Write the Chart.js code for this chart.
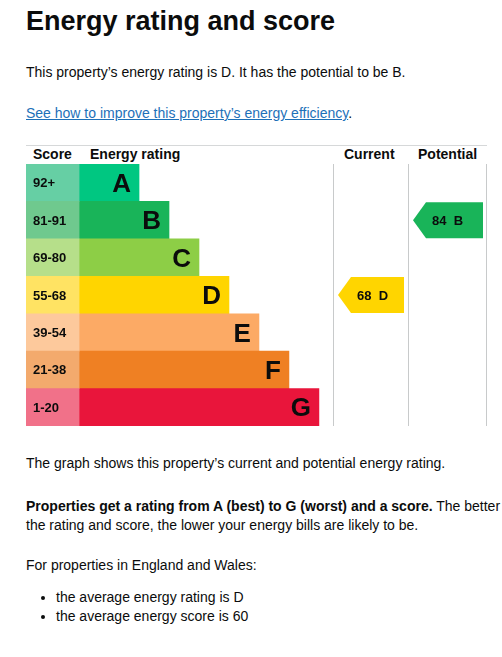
<!DOCTYPE html>
<html><head><meta charset="utf-8">
<script src="https://cdn.jsdelivr.net/npm/chart.js@4"></script>
<style>
body{margin:0;background:#fff;font-family:Arial,"Liberation Sans",sans-serif;color:#0b0c0c;}
.p{position:absolute;left:26px;font-size:14px;margin:0;white-space:nowrap}
h1{position:absolute;left:26px;top:6px;margin:0;font-size:27px;font-weight:bold}
a{color:#1d70b8}
.hd{position:absolute;top:145px;font-weight:bold;font-size:14px;line-height:19px}
#wrap{position:absolute;left:26px;top:164px;width:461px;height:262px}
#tbl{position:absolute;left:26px;top:145px;width:461px;height:281px;border-top:1px solid #d6d8d9;box-sizing:border-box}
ul{position:absolute;left:26px;top:588px;margin:0;padding-left:30px;font-size:14px;line-height:19px}
</style></head><body>
<h1>Energy rating and score</h1>
<p class="p" style="top:64px">This property’s energy rating is D. It has the potential to be B.</p>
<p class="p" style="top:105px"><a href="#">See how to improve this property’s energy efficiency</a>.</p>
<div id="tbl"></div>
<div class="hd" style="left:33px">Score</div>
<div class="hd" style="left:90px">Energy rating</div>
<div class="hd" style="left:344px">Current</div>
<div class="hd" style="left:418px">Potential</div>
<div id="wrap"><canvas id="c"></canvas></div>
<p class="p" style="top:455px">The graph shows this property’s current and potential energy rating.</p>
<p class="p" style="top:497px;line-height:19px"><b>Properties get a rating from A (best) to G (worst) and a score.</b> The better<br>the rating and score, the lower your energy bills are likely to be.</p>
<p class="p" style="top:557px">For properties in England and Wales:</p>
<ul><li>the average energy rating is D</li><li>the average energy score is 60</li></ul>
<script>
const bands=['A','B','C','D','E','F','G'];
const scoreRanges=['92+','81-91','69-80','55-68','39-54','21-38','1-20'];
const barLengths=[2,3,4,5,6,7,8];
const bandColors=['#00c781','#19b459','#8dce46','#ffd500','#fcaa65','#ef8023','#e9153b'];
const scoreColors=['#66cfa4','#6fc98e','#b6df8a','#ffe363','#fdc99c','#f3aa6d','#f17189'];
const currentScore=68, currentBand='D';
const potentialScore=84, potentialBand='B';
const scoreCol=1.77;

const labelsPlugin={id:'labels',afterDatasetsDraw(ch){
  const c=ch.ctx,xs=ch.scales.x,ys=ch.scales.y,W=ch.width,H=ch.height;
  c.save();
  bands.forEach((b,i)=>{
    const y=ys.getPixelForValue(i);
    c.fillStyle='#0b0c0c';c.textBaseline='middle';
    c.font='bold 13px Arial';c.textAlign='left';
    c.fillText(scoreRanges[i],xs.getPixelForValue(-scoreCol)+7,y+1);
    c.font='bold 26px Arial';c.textAlign='right';
    c.fillText(b,xs.getPixelForValue(barLengths[i])-8,y+2);
  });
  // column lines
  c.strokeStyle='#c8cacb';c.lineWidth=1;
  [xs.right+0.5,382.5,W-0.5].forEach(x=>{c.beginPath();c.moveTo(x,-19);c.lineTo(x,H);c.stroke();});
  c.restore();
  const arrow=(score,band,x0,x1)=>{
    const i=bands.indexOf(band),y=ys.getPixelForValue(i),h=18;
    c.save();c.fillStyle=bandColors[i];c.beginPath();
    c.moveTo(x0,y);c.lineTo(x0+13,y-h);c.lineTo(x1,y-h);c.lineTo(x1,y+h);c.lineTo(x0+13,y+h);c.closePath();c.fill();
    c.fillStyle='#0b0c0c';c.font='bold 13px Arial';c.textBaseline='middle';c.textAlign='left';
    c.fillText(score+'  '+band,x0+19,y+1);c.restore();
  };
  arrow(currentScore,currentBand,312,378);
  arrow(potentialScore,potentialBand,387,457);
}};

new Chart(document.getElementById('c'),{
  type:'bar',
  data:{labels:bands,datasets:[
    {data:bands.map(()=>[-scoreCol,0]),backgroundColor:scoreColors,grouped:false},
    {data:barLengths.map(v=>[0,v]),backgroundColor:bandColors,grouped:false}
  ]},
  options:{indexAxis:'y',responsive:true,maintainAspectRatio:false,animation:false,
    barPercentage:1,categoryPercentage:1,
    layout:{padding:{right:154}},
    plugins:{legend:{display:false},tooltip:{enabled:false}},
    scales:{x:{display:false,min:-scoreCol,max:8.47},y:{display:false,offset:true}}},
  plugins:[labelsPlugin]
});
</script>
</body></html>
